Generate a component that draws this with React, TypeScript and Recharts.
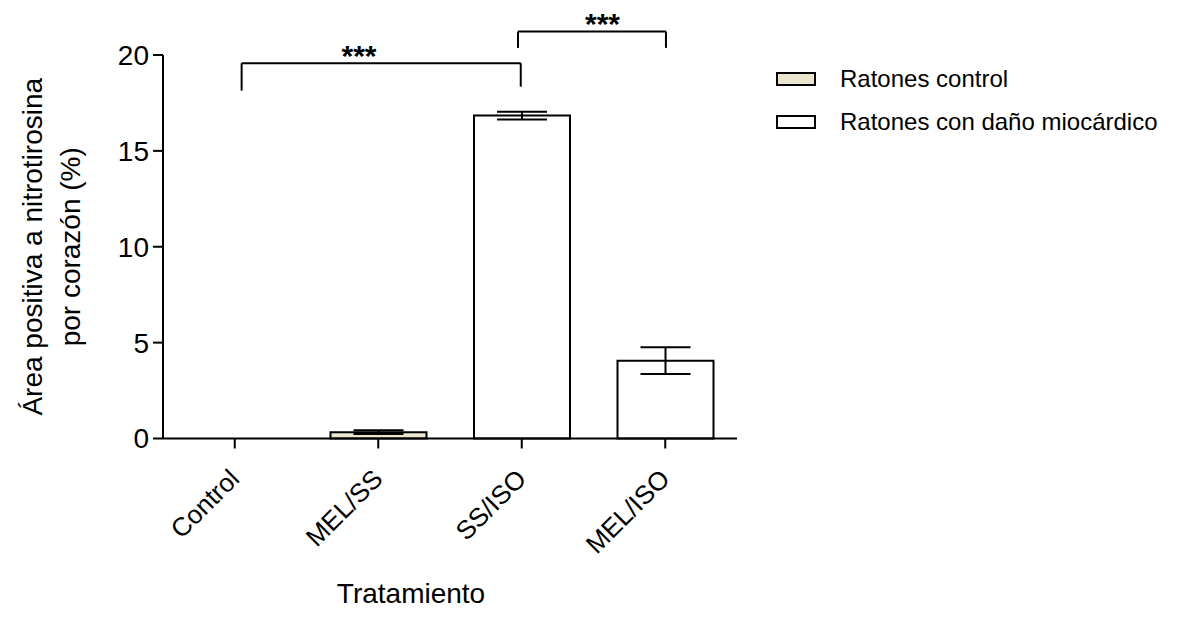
import React from 'react';
import { BarChart, Bar, XAxis, YAxis, Cell, ErrorBar, ReferenceLine, ReferenceDot, Legend } from 'recharts';

const categories = ['Control', 'MEL/SS', 'SS/ISO', 'MEL/ISO'];
const means = [0, 0.33, 16.84, 4.06];
const sems = [0, 0.1, 0.2, 0.7];
const groups = ['control', 'control', 'dano', 'dano'];
const yTicks = [0, 5, 10, 15, 20];

const legendKeys = ['control', 'dano'];
const legendLabels = ['Ratones control', 'Ratones con daño miocárdico'];

const yLabelLines = ['Área positiva a nitrotirosina', 'por corazón (%)'];
const xLabel = 'Tratamiento';

// significance brackets, in category units (x, 0..4 across the axis) and axis units (y)
const brackets = [
  { from: 0.548, to: 2.493, top: 19.57, leftEnd: 18.14, rightEnd: 18.35 },
  { from: 2.474, to: 3.505, top: 21.22, leftEnd: 20.37, rightEnd: 20.37 },
];
const stars = [
  { x: 1.366, y: 20.31, text: '***' },
  { x: 3.063, y: 21.98, text: '***' },
];

const colors: Record<string, string> = { control: '#ebe6cd', dano: '#ffffff' };

const data = categories.map((name, i) => ({
  name,
  pos: i + 0.5,
  value: means[i],
  err: sems[i],
  group: groups[i],
}));

const font = '"Liberation Sans", Arial, sans-serif';

const XTick = (props: any) => {
  const { x, y, payload } = props;
  return (
    <g transform={`translate(${x + 6},${y + 30}) rotate(-45)`}>
      <text textAnchor="end" fontSize={26} fill="#000" fontFamily={font}>
        {payload.value}
      </text>
    </g>
  );
};

const YLabel = (props: any) => {
  const vb = props.viewBox || { y: 55, height: 383.5 };
  const cy = vb.y + vb.height / 2;
  return (
    <g>
      {yLabelLines.map((line, i) => {
        const cx = 32 + i * 38;
        return (
          <text
            key={i}
            x={cx}
            y={cy}
            transform={`rotate(-90, ${cx}, ${cy})`}
            textAnchor="middle"
            dominantBaseline="central"
            fontSize={28}
            fill="#000"
            fontFamily={font}
          >
            {line}
          </text>
        );
      })}
    </g>
  );
};

const XLabel = () => (
  <text x={411} y={603} textAnchor="middle" fontSize={28} fill="#000" fontFamily={font}>
    {xLabel}
  </text>
);

const LegendBox = () => (
  <div style={{ fontFamily: font }}>
    {legendKeys.map((k, i) => (
      <div key={k} style={{ display: 'flex', alignItems: 'center', height: 43 }}>
        <div
          style={{
            width: 40,
            height: 14,
            boxSizing: 'border-box',
            border: '2px solid #000',
            background: colors[k],
          }}
        />
        <span style={{ marginLeft: 24, fontSize: 24, color: '#000', whiteSpace: 'nowrap' }}>{legendLabels[i]}</span>
      </div>
    ))}
  </div>
);

const StarLabel = (props: any) => {
  const vb = props.viewBox || { x: 0, y: 0, width: 0, height: 0 };
  const cx = vb.x + vb.width / 2;
  const cy = vb.y + vb.height / 2;
  return (
    <text x={cx} y={cy + 17} textAnchor="middle" fontSize={30} fontWeight="bold" fill="#000" fontFamily={font}>
      {props.value}
    </text>
  );
};

export default function App() {
  return (
    <div style={{ position: 'absolute', left: 0, top: 0, width: 1178, height: 619, background: '#fff' }}>
      <BarChart width={1178} height={619} data={data} margin={{ top: 55, right: 441, bottom: 80.5, left: 83 }}>
        <XAxis
          dataKey="name"
          height={100}
          interval={0}
          tickSize={10}
          tickLine={{ stroke: '#000', strokeWidth: 2 }}
          axisLine={{ stroke: '#000', strokeWidth: 2 }}
          tick={<XTick />}
          label={<XLabel />}
        />
        <XAxis
          xAxisId="pos"
          dataKey="pos"
          type="number"
          scale="linear"
          domain={[0, 4]}
          allowDataOverflow
          hide
        />
        <YAxis
          domain={[0, 20]}
          ticks={yTicks}
          width={80}
          tickSize={10}
          tickMargin={4}
          tickLine={{ stroke: '#000', strokeWidth: 2 }}
          axisLine={{ stroke: '#000', strokeWidth: 2 }}
          tick={{ fontSize: 28, fill: '#000', fontFamily: font }}
          label={<YLabel />}
        />
        <Bar dataKey="value" barSize={96} stroke="#000" strokeWidth={2} isAnimationActive={false}>
          {data.map((d, i) => (
            <Cell key={i} fill={colors[d.group]} />
          ))}
          <ErrorBar dataKey="err" width={25} stroke="#000" strokeWidth={2} isAnimationActive={false} />
        </Bar>
        {brackets.map((b, i) => [
          <ReferenceLine
            key={`h${i}`}
            xAxisId="pos"
            ifOverflow="visible"
            stroke="#000"
            strokeWidth={2}
            segment={[{ x: b.from, y: b.top }, { x: b.to, y: b.top }]}
          />,
          <ReferenceLine
            key={`l${i}`}
            xAxisId="pos"
            ifOverflow="visible"
            stroke="#000"
            strokeWidth={2}
            segment={[{ x: b.from, y: b.top }, { x: b.from, y: b.leftEnd }]}
          />,
          <ReferenceLine
            key={`r${i}`}
            xAxisId="pos"
            ifOverflow="visible"
            stroke="#000"
            strokeWidth={2}
            segment={[{ x: b.to, y: b.top }, { x: b.to, y: b.rightEnd }]}
          />,
        ])}
        {stars.map((s, i) => (
          <ReferenceDot
            key={`s${i}`}
            xAxisId="pos"
            x={s.x}
            y={s.y}
            r={1}
            fill="none"
            stroke="none"
            ifOverflow="visible"
            label={<StarLabel value={s.text} />}
          />
        ))}
        <Legend
          layout="vertical"
          align="center"
          verticalAlign="middle"
          content={<LegendBox />}
          wrapperStyle={{ position: 'absolute', left: 776, top: 57.5, width: 400 }}
        />
      </BarChart>
    </div>
  );
}
